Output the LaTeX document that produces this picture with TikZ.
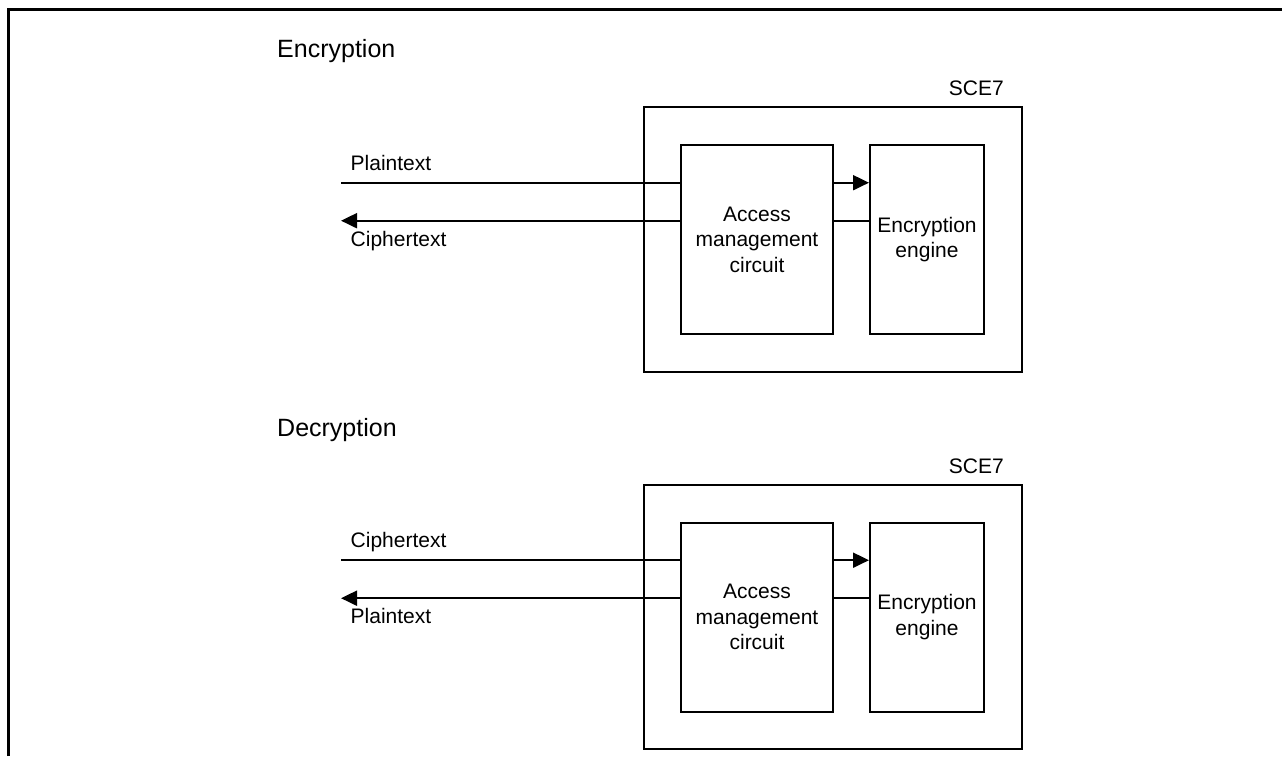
\documentclass[tikz,border=0pt]{standalone}
\usepackage{fontspec}
\setmainfont{Liberation Sans}
\usetikzlibrary{arrows.meta}
\begin{document}
\begin{tikzpicture}[x=1pt,y=-1pt,
  box/.style={draw,line width=2pt,inner sep=0pt,align=center,font=\fontsize{21}{25.5}\selectfont},
  lbl/.style={font=\fontsize{21}{25}\selectfont,inner sep=0pt},
  ttl/.style={font=\fontsize{25}{30}\selectfont,inner sep=0pt},
  ln/.style={line width=2pt},
  arr/.style={-{Triangle[length=16pt,width=15pt]}}]
\useasboundingbox (0,0) rectangle (1282,756);
% outer frame (clipped at right and bottom)
\draw[line width=3pt,line join=miter] (8.5,756) -- (8.5,9.5) -- (1282,9.5);

% ===== Encryption =====
\node[ttl,anchor=base west] (t1) at (277,57.7) {Encryption};
\node[box,minimum width=378.5pt,minimum height=264.4pt] (sce1) at (832.75,239.5) {};
\node[lbl,anchor=base east] (s1) at (1004,95.3) {SCE7};
\node[box,minimum width=151.7pt,minimum height=189pt] (acc1) at (757,239.5) {Access\\management\\circuit};
\node[box,minimum width=114pt,minimum height=189pt] (eng1) at (927,239.5) {Encryption\\engine};
\coordinate (a1) at (341,182.7);
\coordinate (b1) at (341,220.7);
\draw[ln] (a1) -- (a1 -| acc1.west);
\draw[ln,arr] (b1 -| acc1.west) -- (b1);
\draw[ln,arr] (acc1.east |- a1) -- (eng1.west |- a1);
\draw[ln] (eng1.west |- b1) -- (acc1.east |- b1);
\node[lbl,anchor=base west] (l1) at (350.5,170) {Plaintext};
\node[lbl,anchor=base west] (l2) at (350.5,246) {Ciphertext};

% ===== Decryption =====
\node[ttl,anchor=base west] (t2) at (277,436.7) {Decryption};
\node[box,minimum width=378.5pt,minimum height=264.4pt] (sce2) at (832.75,617) {};
\node[lbl,anchor=base east] (s2) at (1004,473.3) {SCE7};
\node[box,minimum width=151.7pt,minimum height=189pt] (acc2) at (757,617) {Access\\management\\circuit};
\node[box,minimum width=114pt,minimum height=189pt] (eng2) at (927,617) {Encryption\\engine};
\coordinate (a2) at (341,560.2);
\coordinate (b2) at (341,598.2);
\draw[ln] (a2) -- (a2 -| acc2.west);
\draw[ln,arr] (b2 -| acc2.west) -- (b2);
\draw[ln,arr] (acc2.east |- a2) -- (eng2.west |- a2);
\draw[ln] (eng2.west |- b2) -- (acc2.east |- b2);
\node[lbl,anchor=base west] (l3) at (350.5,547.5) {Ciphertext};
\node[lbl,anchor=base west] (l4) at (350.5,623.5) {Plaintext};
\end{tikzpicture}
\end{document}
